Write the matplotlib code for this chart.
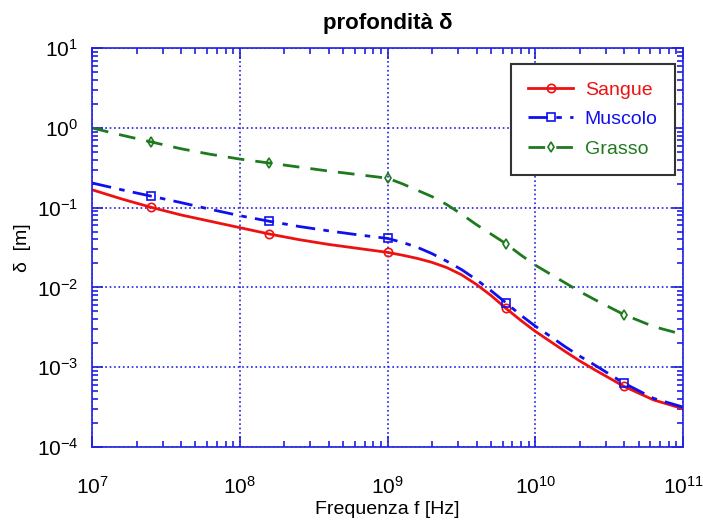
import matplotlib
matplotlib.use("Agg")
import matplotlib.pyplot as plt
from matplotlib.ticker import LogLocator, NullFormatter
import numpy as np

plt.rcParams['font.family'] = ['Liberation Sans', 'DejaVu Sans']
plt.rcParams['mathtext.fontset'] = 'custom'
plt.rcParams['mathtext.rm'] = 'Liberation Sans'

# log10 della frequenza [Hz]
log_f = [7.0, 7.2, 7.4, 7.6, 7.8, 8.0, 8.2, 8.4, 8.6, 8.8, 9.0, 9.1, 9.2, 9.3,
         9.4, 9.5, 9.6, 9.7, 9.8, 9.9, 10.0, 10.1, 10.2, 10.3, 10.4, 10.6,
         10.8, 11.0]

# log10 della profondita di penetrazione [m]
log_sangue = [-0.775, -0.89, -0.995, -1.09, -1.17, -1.25, -1.33, -1.40, -1.46,
              -1.51, -1.56, -1.595, -1.635, -1.685, -1.75, -1.84, -1.96, -2.10,
              -2.26, -2.41, -2.55, -2.675, -2.8, -2.92, -3.03, -3.24, -3.41,
              -3.52]
log_muscolo = [-0.69, -0.775, -0.855, -0.935, -1.02, -1.1, -1.17, -1.235, -1.29,
               -1.34, -1.385, -1.435, -1.495, -1.575, -1.67, -1.775, -1.9, -2.04,
               -2.19, -2.345, -2.485, -2.61, -2.74, -2.86, -2.97, -3.2, -3.39,
               -3.5]
log_grasso = [0.0, -0.09, -0.175, -0.26, -0.33, -0.39, -0.44, -0.49, -0.54,
              -0.585, -0.63, -0.70, -0.78, -0.86, -0.96, -1.08, -1.21, -1.33,
              -1.45, -1.59, -1.72, -1.83, -1.94, -2.05, -2.15, -2.34, -2.49,
              -2.59]

# indici dei punti con marker
mk = [2, 6, 10, 18, 25]

freq = 10.0 ** np.array(log_f)
sangue = 10.0 ** np.array(log_sangue)
muscolo = 10.0 ** np.array(log_muscolo)
grasso = 10.0 ** np.array(log_grasso)

fig = plt.figure(figsize=(7.03, 5.24), dpi=100)
ax = fig.add_axes([0.131, 0.147, 0.8406, 0.761])

ax.loglog(freq, sangue, color='#ee1111', ls='-', lw=2, marker='o', ms=6,
          mfc='none', mew=1.2, markevery=mk, label='Sangue')
ax.loglog(freq, muscolo, color='#1010ee', ls='-.', lw=2, marker='s', ms=6,
          mfc='none', mew=1.2, markevery=mk, label='Muscolo',
          dashes=(7, 3, 2, 3))
ax.loglog(freq, grasso, color='#1e7a1e', ls='--', lw=2, marker='d', ms=5,
          mfc='none', mew=1.2, markevery=mk, label='Grasso',
          dashes=(6, 4))

ax.set_xlim(1e7, 1e11)
ax.set_ylim(1e-4, 1e1)

for a in (ax.xaxis, ax.yaxis):
    a.set_major_locator(LogLocator(base=10, numticks=12))
    a.set_minor_locator(LogLocator(base=10, subs=np.arange(2, 10), numticks=12))
    a.set_minor_formatter(NullFormatter())

ax.grid(True, which='major', color='#2020e0', ls=':', lw=1.2)
for s in ax.spines.values():
    s.set_color('#2020e0')
    s.set_linewidth(1.2)
ax.tick_params(which='both', direction='in', top=True, right=True,
               colors='#2020e0', labelcolor='black', labelsize=15)
ax.tick_params(which='major', length=8, width=1.2)
ax.tick_params(which='minor', length=4.5, width=1.2)
ax.tick_params(axis='x', pad=21)
ax.tick_params(axis='y', pad=10)

ax.set_title('profondità δ', fontsize=16, fontweight='bold', pad=14)
ax.set_xlabel('Frequenza f [Hz]', fontsize=14, labelpad=2)
ax.set_ylabel('δ  [m]', fontsize=14)

leg = ax.legend(loc='upper right', bbox_to_anchor=(1.003, 0.985), fontsize=14,
                fancybox=False, framealpha=1, edgecolor='#333333',
                handlelength=2.3, handletextpad=0.6, borderpad=0.9,
                labelspacing=0.6)
leg.get_frame().set_linewidth(1.5)
for t, ln in zip(leg.get_texts(), leg.get_lines()):
    t.set_color(ln.get_color())

fig.savefig('out.png', dpi=100)
